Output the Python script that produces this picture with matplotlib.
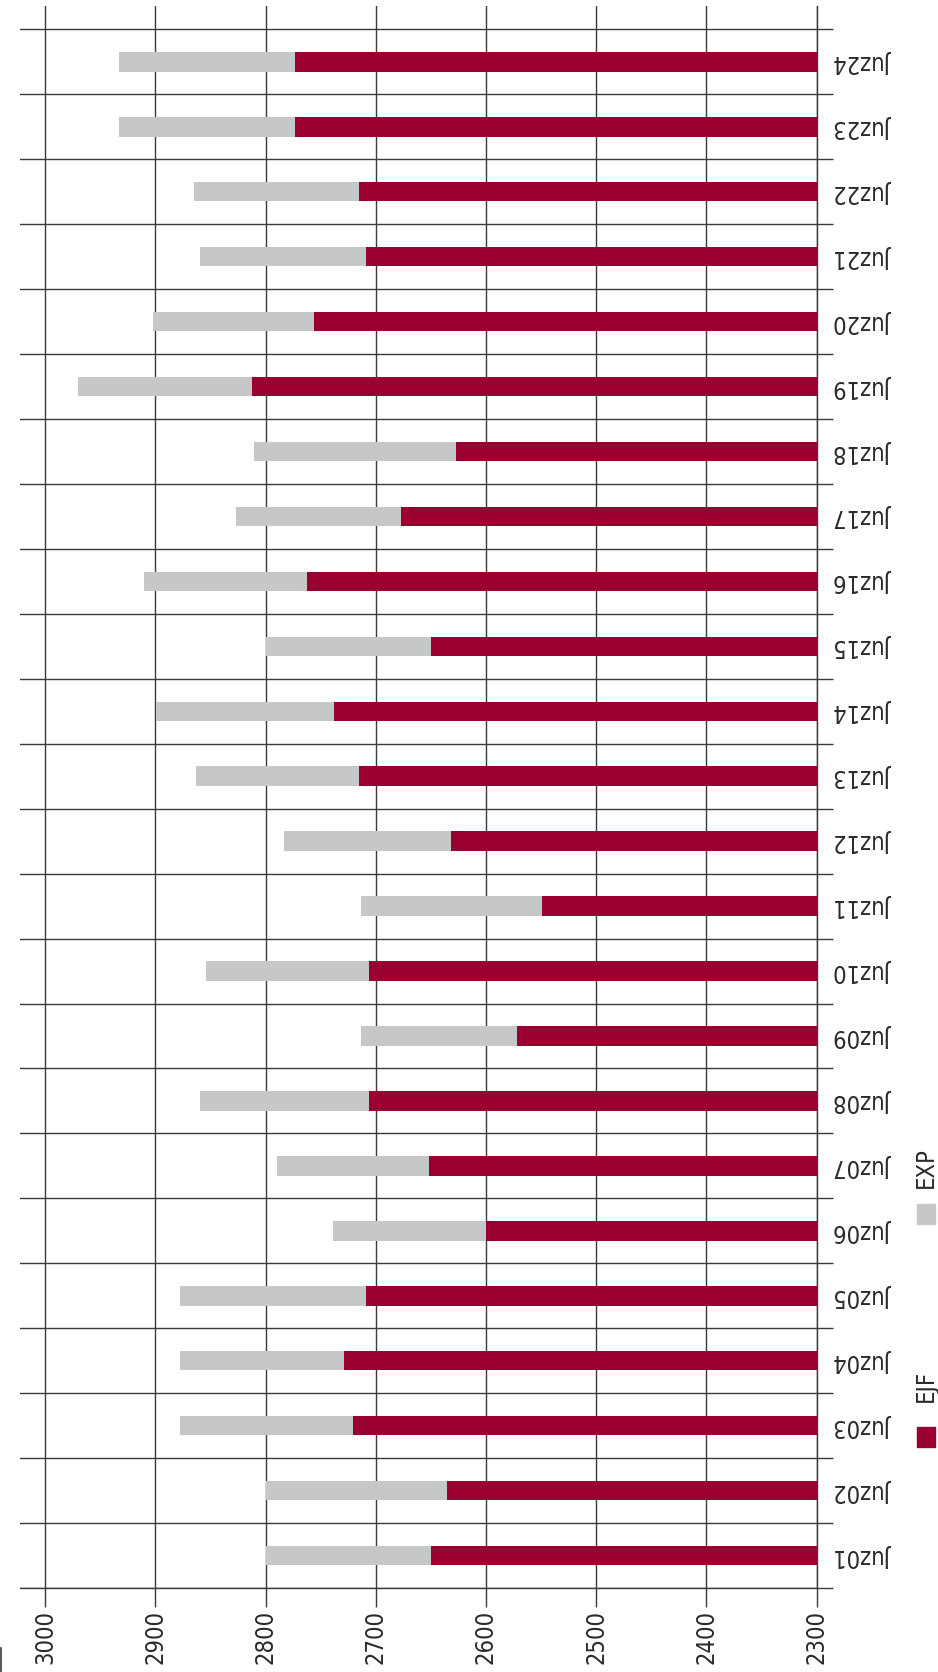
import numpy as np
import matplotlib.pyplot as plt
from matplotlib.patches import Rectangle
from matplotlib.lines import Line2D

plt.rcParams['font.family'] = ['DejaVu Sans']
plt.rcParams['font.stretch'] = 'condensed'

# juz labels and the two stacked series
juz = ["Juz%02d" % i for i in range(1, 25)]
ejf = [2650, 2635, 2721, 2729, 2709, 2600, 2652, 2706, 2572, 2706, 2549, 2632,
       2715, 2738, 2650, 2762, 2677, 2627, 2812, 2756, 2709, 2715, 2773, 2773]
total = [2800, 2800, 2878, 2878, 2878, 2739, 2790, 2859, 2713, 2854, 2713, 2783,
         2863, 2899, 2800, 2910, 2827, 2810, 2970, 2902, 2859, 2865, 2933, 2933]
exp = [t - e for t, e in zip(total, ejf)]
ticks = [3000, 2900, 2800, 2700, 2600, 2500, 2400, 2300]

RED = "#990030"
GREY = "#c6c7c8"
LINE = "#3a3a3a"
TEXT = "#2a2a2a"

W, H = 938, 1672
fig = plt.figure(figsize=(W / 100, H / 100), dpi=100)
ax = fig.add_axes([20 / W, 1 - 1588 / H, (816.7 - 20) / W, (1588 - 6) / H])

y = np.arange(len(juz))
ax.barh(y, ejf, height=0.3, color=RED, zorder=3)
ax.barh(y, exp, left=ejf, height=0.3, color=GREY, zorder=3)

ax.set_xlim(3022.7, 2300)
ax.set_ylim(-0.5, 23.86)

# value axis: ticks at the bottom, labels turned on their side
ax.set_xticks(ticks)
ax.set_xticklabels([str(t) for t in ticks], rotation=90, fontsize=17, color=TEXT)
ax.tick_params(axis="x", direction="out", length=13.5, width=1.0, color=LINE, pad=2)
ax.xaxis.grid(True, color=LINE, linewidth=1.0, zorder=1)

# category axis on the right, labels upside down
ax.yaxis.tick_right()
ax.set_yticks(y)
ax.set_yticklabels(juz, rotation=180, fontsize=17, color=TEXT, va="center")
ax.tick_params(axis="y", which="major", length=0, pad=13)
ax.set_yticks(np.arange(-0.5, 24, 1), minor=True)
ax.tick_params(axis="y", which="minor", right=True, left=False, direction="out",
               length=11.5, width=1.0, color=LINE)
ax.yaxis.grid(True, which="minor", color=LINE, linewidth=1.0, zorder=1)
ax.set_axisbelow(True)

for side in ["top", "left"]:
    ax.spines[side].set_visible(False)
for side in ["bottom", "right"]:
    ax.spines[side].set_color(LINE)
    ax.spines[side].set_linewidth(1.0)

# legend, drawn sideways at the lower right
legend_items = [("EJF", RED, 225, 270), ("EXP", GREY, 448, 484)]
for name, col, y0, ty in legend_items:
    fig.add_artist(Rectangle((917 / W, y0 / H), 18 / W, 20 / H, color=col,
                             transform=fig.transFigure))
    fig.text(926 / W, ty / H, name, rotation=90, ha="center", va="bottom",
             fontsize=17, color=TEXT)

fig.add_artist(Line2D([1 / W, 1 / W], [0, 24 / H], color=LINE, linewidth=1.2,
                      transform=fig.transFigure))

fig.savefig("out.png", dpi=100)
